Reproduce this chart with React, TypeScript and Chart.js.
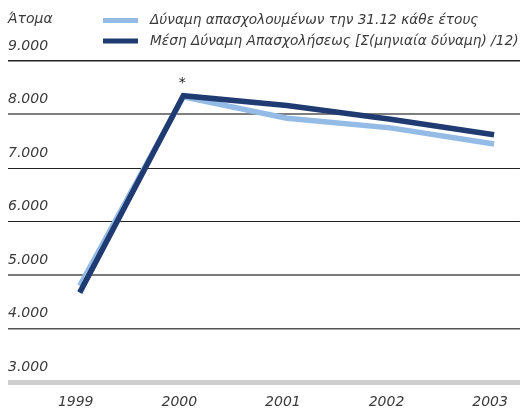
import React, { useEffect, useRef } from "react";
import { Chart, registerables } from "chart.js";

Chart.register(...registerables);

// ---- data ----
const years = [1999, 2000, 2001, 2002, 2003];
const staffYearEnd = [4800, 8330, 7930, 7750, 7450];
const staffAverage = [4670, 8350, 8170, 7910, 7620];
const seriesLabels = [
  "Δύναμη απασχολουμένων την 31.12 κάθε έτους",
  "Μέση Δύναμη Απασχολήσεως [Σ(μηνιαία δύναμη) /12)",
];
const unitLabel = "Άτομα";
const starYear = 2000;
const yMin = 3000;
const yMax = 9000;
const yStep = 1000;

const FAMILY = '"DejaVu Sans", sans-serif';
const TEXT = "#3a3a3a";

const fmt = (v: number) => {
  const s = String(Math.round(v));
  return s.replace(/\B(?=(\d{3})+(?!\d))/g, ".");
};

const gridStyle = (v: number) => {
  if (v === 3000) return { c: "#cfcfcf", w: 5 };
  if (v === 4000) return { c: "#555555", w: 1.5 };
  if (v === 5000) return { c: "#7a7a7a", w: 2 };
  if (v === 8000) return { c: "#7f7f7f", w: 2 };
  if (v === 9000) return { c: "#222222", w: 1.5 };
  return { c: "#222222", w: 1 };
};

const headerPlugin = {
  id: "header",
  afterDraw(chart: any) {
    const ctx = chart.ctx as CanvasRenderingContext2D;
    ctx.save();
    ctx.textBaseline = "middle";
    ctx.textAlign = "left";
    ctx.fillStyle = TEXT;
    ctx.font = `italic 14px ${FAMILY}`;
    ctx.fillText(unitLabel, 8, 19);
    ctx.font = `italic 13.7px ${FAMILY}`;
    chart.data.datasets.forEach((ds: any, i: number) => {
      const y = 20.5 + i * 20.5;
      ctx.fillStyle = ds.borderColor;
      ctx.fillRect(103, y - 2.5, 35, 5);
      ctx.fillStyle = TEXT;
      ctx.fillText(ds.label, 150, y);
    });
    const xs = chart.scales.x;
    const ys = chart.scales.y;
    const idx = years.indexOf(starYear);
    const px = xs.getPixelForValue(starYear);
    const py = ys.getPixelForValue(Math.max(staffYearEnd[idx], staffAverage[idx]));
    ctx.font = `14px ${FAMILY}`;
    ctx.textAlign = "center";
    ctx.fillStyle = "#222";
    ctx.fillText("*", px - 1, py - 12);
    ctx.restore();
  },
};

export default function App() {
  const ref = useRef<HTMLCanvasElement | null>(null);

  useEffect(() => {
    if (!ref.current) return;
    const tickFont = { family: FAMILY, size: 14, style: "italic" as const };
    const chart = new Chart(ref.current, {
      type: "line",
      data: {
        datasets: [
          {
            label: seriesLabels[0],
            data: years.map((x, i) => ({ x, y: staffYearEnd[i] })),
            borderColor: "#93bbe5",
            backgroundColor: "#93bbe5",
            borderWidth: 5.5,
            pointRadius: 0,
            order: 1,
          },
          {
            label: seriesLabels[1],
            data: years.map((x, i) => ({ x, y: staffAverage[i] })),
            borderColor: "#203a72",
            backgroundColor: "#203a72",
            borderWidth: 5.5,
            pointRadius: 0,
            order: 0,
          },
        ],
      },
      options: {
        animation: false,
        responsive: true,
        maintainAspectRatio: false,
        layout: { padding: { left: 8, right: 2, top: 61, bottom: 0 } },
        elements: {
          line: { tension: 0, borderJoinStyle: "miter", borderCapStyle: "butt" },
        },
        plugins: {
          legend: { display: false },
          tooltip: { enabled: false },
        },
        scales: {
          x: {
            type: "linear",
            min: 1998.3077,
            max: 2003.25,
            afterBuildTicks: (s: any) => {
              s.ticks = years.map((v) => ({ value: v }));
            },
            afterFit: (s: any) => {
              s.height = 28;
            },
            grid: { display: false, drawTicks: false },
            border: { display: false },
            ticks: {
              autoSkip: false,
              maxRotation: 0,
              padding: 12,
              labelOffset: -4,
              color: TEXT,
              font: tickFont,
              callback: (v: any) => String(v),
            },
          },
          y: {
            type: "linear",
            min: yMin,
            max: yMax,
            border: { display: false },
            grid: {
              drawTicks: false,
              color: (c: any) => gridStyle(c.tick.value).c,
              lineWidth: (c: any) => gridStyle(c.tick.value).w,
            },
            ticks: {
              stepSize: yStep,
              mirror: true,
              padding: 0,
              labelOffset: -15,
              color: TEXT,
              font: tickFont,
              callback: (v: any) => fmt(Number(v)),
            },
          },
        },
      },
      plugins: [headerPlugin],
    });
    return () => chart.destroy();
  }, []);

  return (
    <div style={{ position: "absolute", left: 0, top: 0, width: 524, height: 410 }}>
      <canvas ref={ref} />
    </div>
  );
}
